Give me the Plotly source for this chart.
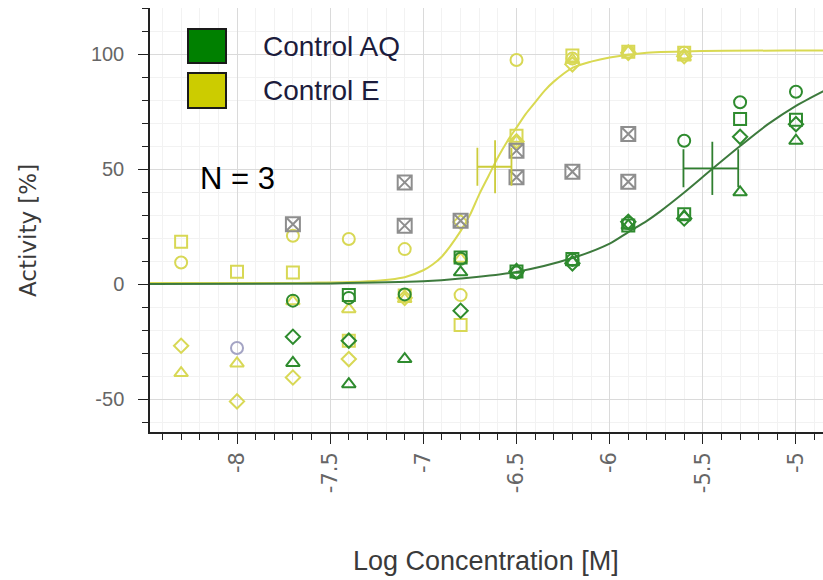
import plotly.graph_objects as go

# ---------------- data ----------------
E_conc = [-8.3, -8.0, -7.7, -7.4, -7.1, -6.8, -6.5, -6.2, -5.9, -5.6]
E_circle = [9.4, None, 21.0, 19.6, 15.2, -4.8, 97.4, 98.0, 101.0, 100.5]
E_square = [18.4, 5.4, 5.0, -24.6, -5.0, -17.8, 64.5, 99.3, 101.0, 100.5]
E_diamond = [-26.8, -51.0, -40.6, -32.6, -6.0, 27.0, 62.0, 95.5, 100.5, 99.0]
E_triangle = [-38.7, -34.5, -7.5, -10.9, -6.5, 11.0, 62.0, 97.5, 101.0, 98.5]

AQ_conc = [-7.7, -7.4, -7.1, -6.8, -6.5, -6.2, -5.9, -5.6, -5.3, -5.0]
AQ_circle = [-7.2, -6.0, -4.5, 11.0, 5.0, 10.5, 26.5, 62.3, 79.0, 83.6]
AQ_square = [None, -4.8, None, 11.6, 5.5, 10.9, 25.5, 30.4, 71.7, 71.4]
AQ_diamond = [-22.9, -24.6, None, -11.6, 5.5, 9.0, 27.1, 28.5, 64.0, 69.5]
AQ_triangle = [-34.3, -43.5, -32.6, 5.1, 6.2, 9.5, 25.4, 29.5, 39.9, 62.3]

# excluded (greyed) points
EXC_conc = [-7.7, -7.1, -7.1, -6.8, -6.5, -6.5, -6.2, -5.9, -5.9]
EXC_val = [26.0, 44.2, 25.4, 27.5, 58.0, 46.4, 48.8, 65.2, 44.5]
EXC_circle_conc = [-8.0]
EXC_circle_val = [-27.8]

# fitted curves
E_fit_x = [-8.47, -7.6, -7.3, -7.1, -7.0, -6.95, -6.9, -6.8, -6.75, -6.7, -6.65, -6.6,
           -6.55, -6.5, -6.45, -6.4, -6.35, -6.3, -6.2, -6.1, -6.0, -5.8, -5.5, -5.0, -4.85]
E_fit_y = [0.5, 0.6, 1.2, 3.0, 6.0, 8.5, 12.0, 23.0, 30.0, 39.0, 47.0, 55.0,
           62.0, 68.0, 74.0, 79.0, 84.0, 88.0, 94.0, 96.7, 98.5, 100.5, 101.3, 101.5, 101.5]
AQ_fit_x = [-8.47, -7.5, -7.0, -6.8, -6.5, -6.2, -6.0, -5.9, -5.8, -5.73, -5.6, -5.45,
            -5.3, -5.15, -5.0, -4.85]
AQ_fit_y = [0.0, 0.3, 1.2, 2.4, 5.3, 11.3, 17.6, 22.6, 27.5, 31.5, 39.8, 50.0,
            60.0, 69.5, 77.5, 84.0]

# EC50 with confidence range
E_ec50 = [-6.615]
E_ec50_y = [51.0]
E_err_minus = [0.095]
E_err_plus = [0.088]
AQ_ec50 = [-5.449]
AQ_ec50_y = [50.3]
AQ_err_minus = [0.155]
AQ_err_plus = [0.139]

x_tick_vals = [-8, -7.5, -7, -6.5, -6, -5.5, -5]
x_tick_text = ["-8", "-7.5", "-7", "-6.5", "-6", "-5.5", "-5"]
y_tick_vals = [-50, 0, 50, 100]
y_tick_text = ["-50", "0", "50", "100"]

legend_names = ["Control AQ", "Control E"]

# ---------------- styles ----------------
GREEN = "#2e8b2e"
GREEN_LINE = "#3d7a3d"
YELLOW = "#d8d855"
YELLOW_LINE = "#d9d952"
GREY = "#8e8e8e"

W, H = 823, 580
ML, MR, MT, MB = 150, 0, 8, 148
PW, PH = W - ML - MR, H - MT - MB


def px(x):
    return (x - ML) / PW


def py(y):
    return (H - MB - y) / PH


fig = go.Figure()

# curves
fig.add_trace(go.Scatter(x=E_fit_x, y=E_fit_y, mode="lines", line=dict(color=YELLOW_LINE, width=2, shape="spline", smoothing=0.8),
                         showlegend=False, hoverinfo="skip"))
fig.add_trace(go.Scatter(x=AQ_fit_x, y=AQ_fit_y, mode="lines", line=dict(color=GREEN_LINE, width=2, shape="spline", smoothing=0.8),
                         showlegend=False, hoverinfo="skip"))

symbols = [("circle-open", 12), ("square-open", 12), ("diamond-open", 11), ("triangle-up-open", 12)]

for vals, (sym, sz) in zip([E_circle, E_square, E_diamond, E_triangle], symbols):
    fig.add_trace(go.Scatter(x=E_conc, y=vals, mode="markers",
                             marker=dict(symbol=sym, size=sz, color=YELLOW, line=dict(width=2, color=YELLOW)),
                             showlegend=False))
for vals, (sym, sz) in zip([AQ_circle, AQ_square, AQ_diamond, AQ_triangle], symbols):
    fig.add_trace(go.Scatter(x=AQ_conc, y=vals, mode="markers",
                             marker=dict(symbol=sym, size=sz, color=GREEN, line=dict(width=2, color=GREEN)),
                             showlegend=False))

# excluded points
fig.add_trace(go.Scatter(x=EXC_conc, y=EXC_val, mode="markers",
                         marker=dict(symbol="square-x-open", size=14, color=GREY, line=dict(width=2, color=GREY)),
                         showlegend=False))
fig.add_trace(go.Scatter(x=EXC_circle_conc, y=EXC_circle_val, mode="markers",
                         marker=dict(symbol="circle-open", size=12, color="#a4a4c4", line=dict(width=2, color="#a4a4c4")),
                         showlegend=False))

# EC50 error bars
for xc, yc, em, ep, col in [(E_ec50, E_ec50_y, E_err_minus, E_err_plus, "#cccc3a"),
                            (AQ_ec50, AQ_ec50_y, AQ_err_minus, AQ_err_plus, "#2f7f2f")]:
    fig.add_trace(go.Scatter(x=xc, y=yc, mode="markers",
                             marker=dict(symbol="line-ns-open", size=38, color=col, line=dict(width=1.8, color=col)),
                             error_x=dict(type="data", symmetric=False, array=ep, arrayminus=em,
                                          color=col, thickness=1.8, width=19),
                             showlegend=False))

shapes = []
# legend background
shapes.append(dict(type="rect", xref="paper", yref="paper", x0=px(157), x1=px(418), y0=py(112), y1=py(21),
                   fillcolor="white", line=dict(width=0), layer="between"))
for (y0, y1), col in zip([(29, 63), (73, 108)], ["#008000", "#cccc00"]):
    shapes.append(dict(type="rect", xref="paper", yref="paper", x0=px(188), x1=px(226), y0=py(y1), y1=py(y0),
                       fillcolor=col, line=dict(width=2, color="#1a1a1a"), layer="above"))

annotations = []
for name, yc in zip(legend_names, [46, 90]):
    annotations.append(dict(text=name, xref="paper", yref="paper", x=px(261), y=py(yc), xanchor="left", yanchor="middle",
                            showarrow=False, font=dict(family="Liberation Sans, Arial", size=28, color="#1c1c3c")))
annotations.append(dict(text="N = 3", xref="paper", yref="paper", x=px(237), y=py(178), xanchor="center", yanchor="middle",
                        showarrow=False, font=dict(family="Liberation Sans, Arial", size=31, color="black")))
annotations.append(dict(text="Log Concentration [M]", xref="paper", yref="paper", x=px(486), y=py(561),
                        xanchor="center", yanchor="middle", showarrow=False,
                        font=dict(family="Liberation Sans, Arial", size=27, color="#3a3a3a")))
annotations.append(dict(text="Activity [%]", xref="paper", yref="paper", x=px(28), y=py(231), textangle=-90,
                        xanchor="center", yanchor="middle", showarrow=False,
                        font=dict(family="DejaVu Sans, Verdana", size=23, color="#3a3a3a")))

fig.update_layout(
    width=W, height=H, margin=dict(l=ML, r=MR, t=MT, b=MB),
    paper_bgcolor="white", plot_bgcolor="white",
    shapes=shapes, annotations=annotations, showlegend=False,
    xaxis=dict(range=[-8.467, -4.855], tickvals=x_tick_vals, ticktext=x_tick_text, tickangle=-90,
               showline=True, linecolor="#222", linewidth=1.5, ticks="outside", ticklen=10, tickcolor="#222",
               tickfont=dict(family="DejaVu Sans, Verdana", size=21, color="#666"),
               showgrid=True, gridcolor="#dadada", gridwidth=1, zeroline=False, automargin=False,
               minor=dict(dtick=0.1, tick0=-8, ticks="outside", ticklen=6, tickcolor="#222",
                          showgrid=True, gridcolor="#f2f2f2")),
    yaxis=dict(range=[-64.3, 120], tickvals=y_tick_vals, ticktext=y_tick_text,
               showline=True, linecolor="#222", linewidth=1.5, ticks="outside", ticklen=10, tickcolor="#222",
               tickfont=dict(family="Liberation Sans, Arial", size=20, color="#666"),
               ticklabelstandoff=10,
               showgrid=True, gridcolor="#dadada", gridwidth=1, zeroline=False, automargin=False,
               minor=dict(dtick=10, tick0=0, ticks="outside", ticklen=6, tickcolor="#222",
                          showgrid=True, gridcolor="#f2f2f2")),
)

fig.write_html("out.html")
